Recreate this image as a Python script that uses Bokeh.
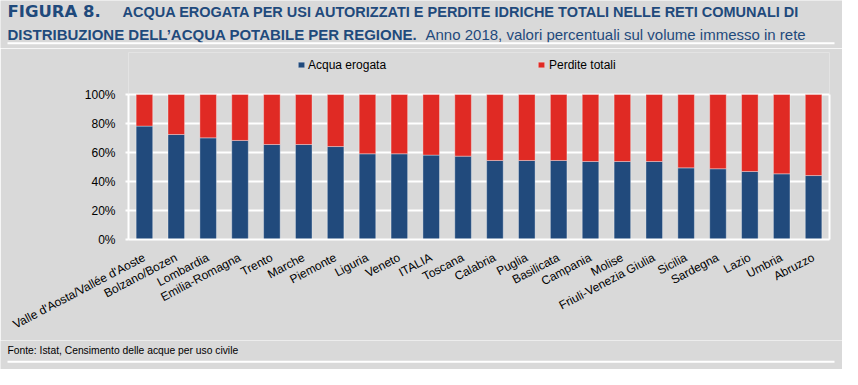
from bokeh.plotting import figure
from bokeh.models import (Legend, LegendItem, FactorRange, PrintfTickFormatter,
                          ColumnDataSource, Range1d, LinearAxis, FixedTicker)
from bokeh.core.properties import value
from bokeh.embed import file_html
from bokeh.resources import INLINE

regioni = ["Valle d'Aosta/Vallée d'Aoste", "Bolzano/Bozen", "Lombardia", "Emilia-Romagna",
           "Trento", "Marche", "Piemonte", "Liguria", "Veneto", "ITALIA", "Toscana",
           "Calabria", "Puglia", "Basilicata", "Campania", "Molise", "Friuli-Venezia Giulia",
           "Sicilia", "Sardegna", "Lazio", "Umbria", "Abruzzo"]
acqua_erogata = [78.2, 72.4, 70.1, 68.3, 65.5, 65.5, 64.1, 59.1, 59.1, 58.2, 57.5,
                 54.5, 54.5, 54.5, 53.8, 53.8, 53.8, 49.4, 48.8, 46.9, 45.3, 44.1]
perdite_totali = [21.8, 27.6, 29.9, 31.7, 34.5, 34.5, 35.9, 40.9, 40.9, 41.8, 42.5,
                  45.5, 45.5, 45.5, 46.2, 46.2, 46.2, 50.6, 51.2, 53.1, 54.7, 55.9]
y_ticks = [0, 20, 40, 60, 80, 100]

titolo_1a = "FIGURA 8."
titolo_1b = "ACQUA EROGATA PER USI AUTORIZZATI E PERDITE IDRICHE TOTALI NELLE RETI COMUNALI DI"
titolo_2a = "DISTRIBUZIONE DELL’ACQUA POTABILE PER REGIONE."
titolo_2b = "Anno 2018, valori percentuali sul volume immesso in rete"
fonte = "Fonte: Istat, Censimento delle acque per uso civile"

BG = "#d9d9d9"
BLUE = "#214a7c"
RED = "#e02a24"
TITLE = "#1f4a7c"
W = 842


def blank(height):
    f = figure(width=W, height=height, x_range=Range1d(0, W), y_range=Range1d(height, 0),
               output_backend="svg", toolbar_location=None,
               min_border=0, min_border_left=0, min_border_right=0,
               min_border_top=0, min_border_bottom=0)
    f.axis.visible = False
    f.grid.visible = False
    f.background_fill_color = BG
    f.border_fill_color = BG
    f.outline_line_color = None
    return f


# ---- header (title) ----
head = blank(48)
head.text(x=[7], y=[11.3], text=[titolo_1a], text_font=value("DejaVu Sans"),
          text_font_style="bold", text_font_size="16.5px", text_color=TITLE,
          text_baseline="alphabetic")
head.text(x=[122], y=[11], text=[titolo_1b],
          text_font=value("Liberation Sans"), text_font_style="bold",
          text_font_size="14.5px", text_color=TITLE, text_baseline="alphabetic")
head.text(x=[7], y=[33.5], text=[titolo_2a],
          text_font=value("Liberation Sans"), text_font_style="bold",
          text_font_size="15px", text_color=TITLE, text_baseline="alphabetic")
head.text(x=[425], y=[33.5], text=[titolo_2b], text_font=value("Liberation Sans"),
          text_font_size="15px", text_color=TITLE, text_baseline="alphabetic")
head.segment(x0=[7], y0=[42.7], x1=[834], y1=[42.7], line_color="white", line_width=2)

# ---- main chart ----
src = ColumnDataSource(dict(regione=regioni, erogata=acqua_erogata, perdite=perdite_totali))

p = figure(width=W, height=292, x_range=FactorRange(factors=regioni, range_padding=0),
           y_range=Range1d(0, 128.97), output_backend="svg", toolbar_location=None,
           min_border_left=128, min_border_right=13, min_border_top=4, min_border_bottom=101)
p.background_fill_color = BG
p.border_fill_color = BG
p.outline_line_color = None

rs = p.vbar_stack(["erogata", "perdite"], x="regione", width=0.52, source=src,
                  color=[BLUE, RED], line_color="white", line_alpha=0.35, line_width=1)

p.xgrid.visible = False
p.ygrid.grid_line_color = "white"
p.ygrid.grid_line_width = 2
p.yaxis.ticker = y_ticks
p.yaxis.bounds = (0, 100)
p.yaxis.formatter = PrintfTickFormatter(format="%d%%")
for ax in (p.xaxis, p.yaxis):
    ax.axis_line_color = "white"
    ax.axis_line_width = 2
    ax.major_tick_line_color = "white"
    ax.major_tick_line_width = 2
    ax.minor_tick_line_color = None
    ax.major_label_text_font = "Liberation Sans"
    ax.major_label_text_font_size = "12px"
    ax.major_label_text_color = "black"
p.yaxis.major_tick_out = 3
p.yaxis.major_tick_in = 0
p.yaxis.major_label_standoff = 10
p.xaxis.major_tick_out = 0
p.xaxis.major_tick_in = 0
p.xaxis.major_label_orientation = 0.485
p.xaxis.major_label_standoff = 17

right = LinearAxis(ticker=FixedTicker(ticks=[]), bounds=(0, 100), axis_line_color="white",
                   axis_line_width=2, major_tick_line_color=None, minor_tick_line_color=None,
                   major_label_text_font_size="0px")
p.add_layout(right, "right")

leg1 = Legend(items=[LegendItem(label="Acqua erogata", renderers=[rs[0]])],
              location=(169, 167.5), orientation="horizontal", padding=0, margin=0, spacing=0,
              glyph_width=8, glyph_height=7, label_standoff=3, label_height=14,
              label_text_font="Liberation Sans", label_text_font_size="12px",
              label_text_color="black", background_fill_alpha=0, border_line_alpha=0)
leg2 = Legend(items=[LegendItem(label="Perdite totali", renderers=[rs[1]])],
              location=(409, 167.5), orientation="horizontal", padding=0, margin=0, spacing=0,
              glyph_width=8, glyph_height=7, label_standoff=4, label_height=14,
              label_text_font="Liberation Sans", label_text_font_size="12px",
              label_text_color="black", background_fill_alpha=0, border_line_alpha=0)
p.add_layout(leg1)
p.add_layout(leg2)

# ---- footer (source) ----
foot = blank(29)
foot.text(x=[7], y=[10], text=[fonte], text_font=value("Liberation Sans"),
          text_font_size="10.3px", text_color="black", text_baseline="alphabetic")
foot.segment(x0=[7], y0=[21.3], x1=[834], y1=[21.3], line_color="white", line_width=2)

open("out.html", "w").write(file_html([head, p, foot], INLINE))
